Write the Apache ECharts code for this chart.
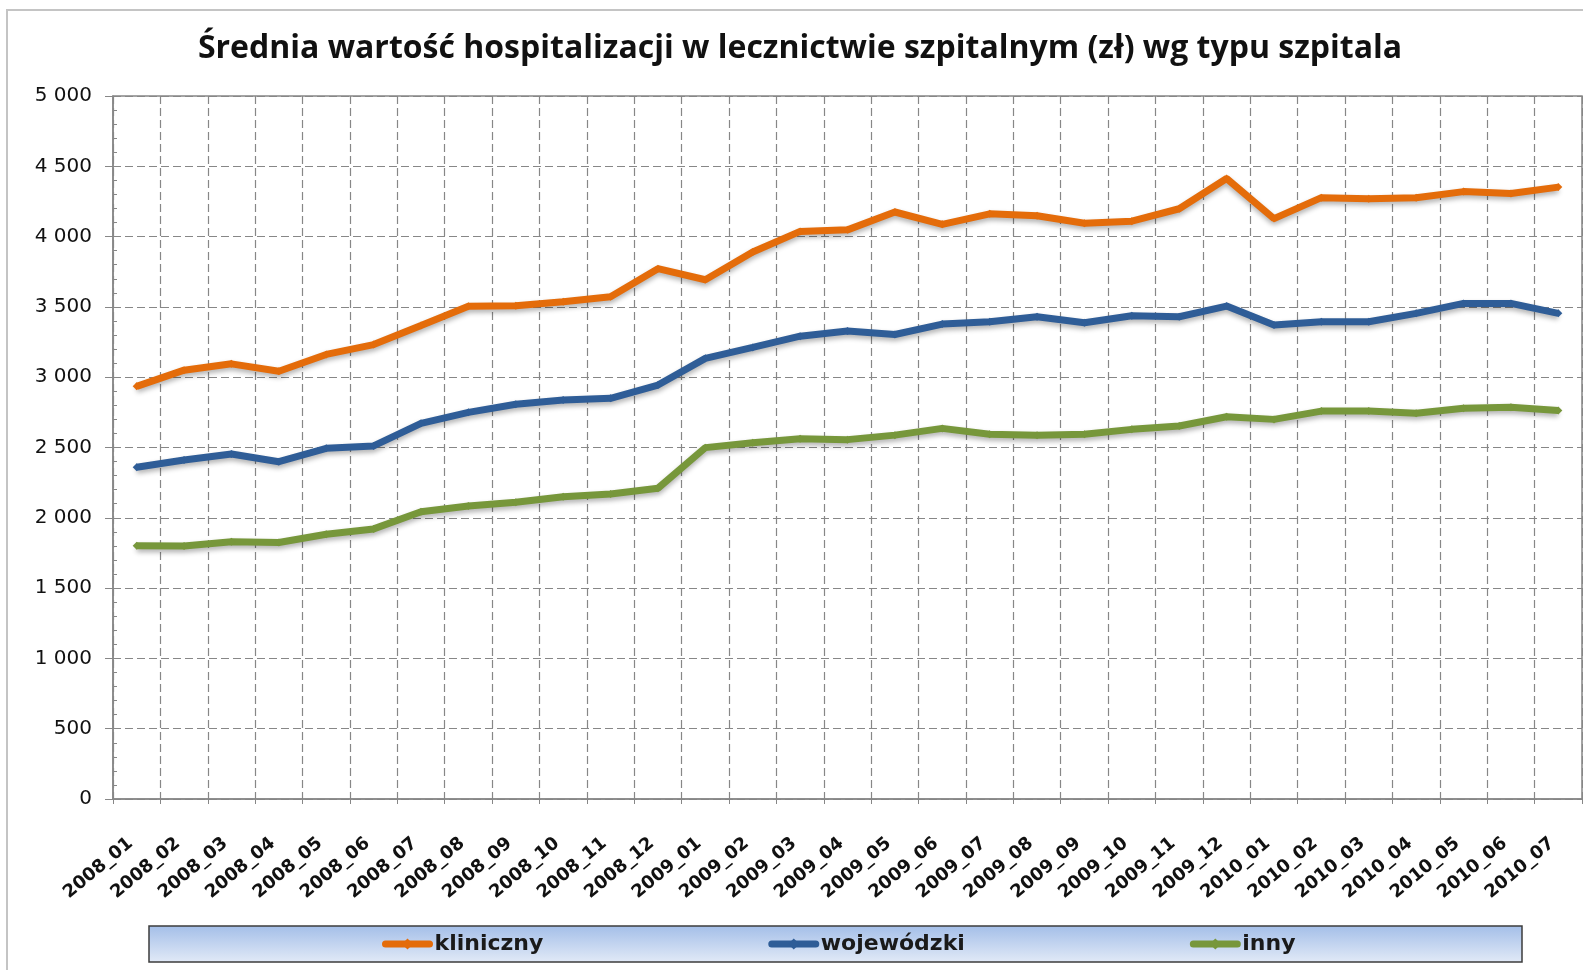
<!DOCTYPE html>
<html>
<head>
<meta charset="utf-8">
<script src="https://cdn.jsdelivr.net/npm/echarts@6/dist/echarts.min.js"></script>
<style>
  html, body { margin: 0; padding: 0; background: #fff; }
  #chart { width: 1583px; height: 970px; }
</style>
</head>
<body>
<div id="chart"></div>
<script>
// months 2008_01 .. 2010_07
var months = [
  "2008_01", "2008_02", "2008_03", "2008_04", "2008_05", "2008_06",
  "2008_07", "2008_08", "2008_09", "2008_10", "2008_11", "2008_12",
  "2009_01", "2009_02", "2009_03", "2009_04", "2009_05", "2009_06",
  "2009_07", "2009_08", "2009_09", "2009_10", "2009_11", "2009_12",
  "2010_01", "2010_02", "2010_03", "2010_04", "2010_05", "2010_06", "2010_07"
];
var kliniczny = [
  2935, 3050, 3095, 3042, 3162, 3232, 3368, 3505, 3508, 3536, 3572, 3772,
  3693, 3890, 4037, 4048, 4175, 4087, 4162, 4148, 4095, 4110, 4198, 4413,
  4128, 4277, 4270, 4276, 4320, 4306, 4352
];
var wojewodzki = [
  2359, 2411, 2454, 2399, 2494, 2511, 2672, 2750, 2808, 2838, 2850, 2944,
  3134, 3212, 3292, 3328, 3304, 3378, 3394, 3430, 3387, 3437, 3430, 3506,
  3371, 3394, 3394, 3454, 3525, 3525, 3454
];
var inny = [
  1802, 1800, 1830, 1824, 1883, 1921, 2043, 2084, 2110, 2150, 2169, 2210,
  2499, 2534, 2563, 2556, 2588, 2636, 2594, 2587, 2594, 2629, 2653, 2719,
  2700, 2759, 2759, 2743, 2779, 2786, 2763
];

var gridColor = "#878787";

function spaced(v) {
  return String(v).replace(/\B(?=(\d{3})+(?!\d))/g, " ");
}

function lineSeries(name, data, color) {
  return {
    name: name,
    type: "line",
    data: data,
    symbol: "diamond",
    symbolSize: 8,
    itemStyle: { color: color },
    lineStyle: {
      color: color,
      width: 7,
      shadowColor: "rgba(0,0,0,0.3)",
      shadowBlur: 5,
      shadowOffsetY: 3
    },
    emphasis: { disabled: true }
  };
}

var myChart = echarts.init(document.getElementById("chart"));
var option = {
  animation: false,
  backgroundColor: "#fff",
  graphic: [
    {
      type: "rect", z: -10,
      shape: { x: 7, y: 10, width: 1700, height: 1100 },
      style: { fill: "none", stroke: "#c4c4c4", lineWidth: 2 }
    },
    {
      type: "rect", z: -5,
      shape: { x: 149, y: 926, width: 1373, height: 36 },
      style: {
        fill: new echarts.graphic.LinearGradient(0, 0, 0, 1, [
          { offset: 0, color: "#a3bee8" },
          { offset: 1, color: "#e2eaf7" }
        ]),
        stroke: "#3c3c3c",
        lineWidth: 1.5
      }
    },
    {
      type: "text",
      x: 800, y: 49,
      style: {
        text: "Średnia wartość hospitalizacji w lecznictwie szpitalnym (zł) wg typu szpitala",
        font: "bold 32px 'Open Sans'",
        fill: "#111",
        align: "center",
        verticalAlign: "middle"
      }
    }
  ],
  legend: {
    left: 382,
    top: 933,
    padding: 0,
    itemWidth: 44,
    itemHeight: 14,
    itemGap: 225,
    lineStyle: { width: 7, cap: "round" },
    textStyle: {
      fontFamily: "DejaVu Sans",
      fontWeight: "bold",
      fontSize: 22,
      color: "#1a1a1a"
    },
    data: ["kliniczny", "wojewódzki", "inny"]
  },
  grid: {
    left: 113,
    right: 1,
    top: 96,
    bottom: 171,
    show: true,
    borderColor: gridColor,
    borderWidth: 1.5
  },
  xAxis: {
    type: "category",
    data: months,
    boundaryGap: true,
    axisLine: { lineStyle: { color: gridColor, width: 1.5 } },
    axisTick: { show: true, length: 5, interval: 0, lineStyle: { color: gridColor } },
    splitLine: {
      show: true,
      interval: 0,
      lineStyle: { color: gridColor, type: [8, 4], width: 1.2 }
    },
    axisLabel: {
      interval: 0,
      rotate: 40,
      margin: 37,
      align: "right",
      verticalAlign: "middle",
      padding: [0, 8, 0, 0],
      fontFamily: "DejaVu Sans",
      fontWeight: "bold",
      fontSize: 18,
      color: "#111"
    }
  },
  yAxis: [
    {
      type: "value",
      min: 0,
      max: 5000,
      interval: 500,
      position: "left",
      axisLine: { show: true, lineStyle: { color: gridColor, width: 1.5 } },
      axisTick: { show: true, length: 8, lineStyle: { color: gridColor } },
      splitLine: {
        show: true,
        lineStyle: { color: gridColor, type: [8, 4], width: 1.2 }
      },
      axisLabel: {
        margin: 21,
        fontFamily: "DejaVu Sans",
        fontSize: 20,
        color: "#111",
        formatter: spaced
      }
    },
    {
      type: "value",
      min: 0,
      max: 5000,
      interval: 100,
      position: "left",
      axisLine: { show: false },
      axisTick: { show: true, inside: true, length: 4, lineStyle: { color: gridColor } },
      axisLabel: { show: false },
      splitLine: { show: false }
    }
  ],
  series: [
    lineSeries("kliniczny", kliniczny, "#e46c0a"),
    lineSeries("wojewódzki", wojewodzki, "#2f5d97"),
    lineSeries("inny", inny, "#77973b")
  ]
};
myChart.setOption(option);
</script>
</body>
</html>
